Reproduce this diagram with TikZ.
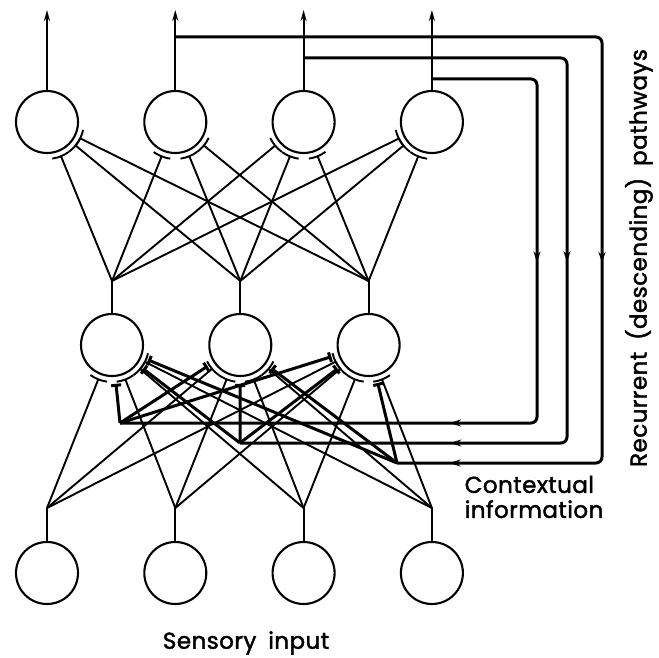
\documentclass[tikz,border=0pt]{standalone}
\usepackage{fontspec}
\setmainfont{Poppins}
\newfontfamily\capfont{Poppins}[FakeBold=1.8, LetterSpace=2, WordSpace=1.8]
\usepackage{tikz}
\usetikzlibrary{positioning}
\usetikzlibrary{arrows.meta}
\usetikzlibrary{calc, decorations.markings}

% line ending in a small cup just outside a cell
\newcommand{\synr}{37pt}
\newcommand{\synapse}[2]{%
  \draw[wire] let \p1=($(#1)-(#2)$), \n1={atan2(\y1,\x1)} in
    (#1) -- ($(#2)+(\n1:\synr)$)
    ($(#2)+(\n1-14:\synr)$) arc[start angle=\n1-14, end angle=\n1+14, radius=\synr];}
% thick contextual line ending in a bar
\newcommand{\context}[2]{%
  \draw[ctx] let \p1=($(#1)-(#2)$), \n1={atan2(\y1,\x1)} in
    (#1) -- ($(#2)+(\n1:39pt)$);}

\begin{document}
\begin{tikzpicture}[x=1pt, y=-1pt, node distance=128.3pt,
    cell/.style={draw, circle, line width=2.1pt, minimum size=62pt, inner sep=0pt},
    wire/.style={line width=1.9pt},
    outarrow/.style={wire, -{Stealth[length=11pt, width=6pt]}},
    recur/.style 2 args={line width=3pt, rounded corners=6pt, postaction={decorate},
      decoration={markings,
        mark=at position #1 with {\arrow{Stealth[length=11pt, width=7pt]}},
        mark=at position #2 with {\arrow{Stealth[length=11pt, width=7pt]}}}},
    ctx/.style={line width=3pt, -{Bar[width=10pt]}},
    caption/.style={font=\capfont\fontsize{23}{25}\selectfont, inner sep=0pt}]
			\useasboundingbox (0,0) rectangle (659,658);

			% layers
			\node[cell] (t1) at (47,122) {};
			\node[cell, right of=t1] (t2) {};
			\node[cell, right of=t2] (t3) {};
			\node[cell, right of=t3] (t4) {};
			\node[cell] (m1) at (112,345) {};
			\node[cell, right of=m1] (m2) {};
			\node[cell, right of=m2] (m3) {};
			\node[cell] (b1) at (47,573) {};
			\node[cell, right of=b1] (b2) {};
			\node[cell, right of=b2] (b3) {};
			\node[cell, right of=b3] (b4) {};

			\foreach \i in {1,...,4} \coordinate (jb\i) at ($(b\i.center)+(0,-65)$);
			\foreach \j in {1,2,3} \coordinate (jh\j) at ($(m\j.center)+(0,-64)$);
			\foreach \k in {1,...,4} \coordinate (out\k) at ($(t\k.center)+(0,-112)$);

			% feedforward
			\foreach \i in {1,...,4} \draw[wire] (b\i) -- (jb\i);
			\foreach \i in {1,...,4} \foreach \j in {1,2,3} \synapse{jb\i}{m\j};
			\foreach \j in {1,2,3} \draw[wire] (m\j) -- (jh\j);
			\foreach \j in {1,2,3} \foreach \k in {1,...,4} \synapse{jh\j}{t\k};
			\foreach \k in {1,...,4} \draw[outarrow] (t\k) -- (out\k);

			% recurrent pathways
			\coordinate (tap2) at ($(t2.center)+(0,-85)$);
			\coordinate (tap3) at ($(t3.center)+(0,-64)$);
			\coordinate (tap4) at ($(t4.center)+(0,-43)$);
			\coordinate (r2) at (602,463);
			\coordinate (r3) at (567,443);
			\coordinate (r4) at (537,423);
			\coordinate (cc) at (397,463);
			\coordinate (cb) at (240,443);
			\coordinate (ca) at (120,423);

			\draw[recur={650pt}{1000pt}] (tap2) -| (r2) -- (cc);
			\draw[recur={465pt}{760pt}] (tap3) -| (r3) -- (cb);
			\draw[recur={286pt}{531pt}] (tap4) -| (r4) -- (ca);

			\foreach \c in {ca,cb,cc} \foreach \j in {1,2,3} \context{\c}{m\j};

			% labels
			\node[caption] (sensory) at (246,643) {Sensory input};
			\node[caption, align=left] (contextual) at (534,497) {Contextual\\information};
			\node[caption, rotate=90] (recurrent) at (639,258) {Recurrent (descending) pathways};
		\end{tikzpicture}
\end{document}
